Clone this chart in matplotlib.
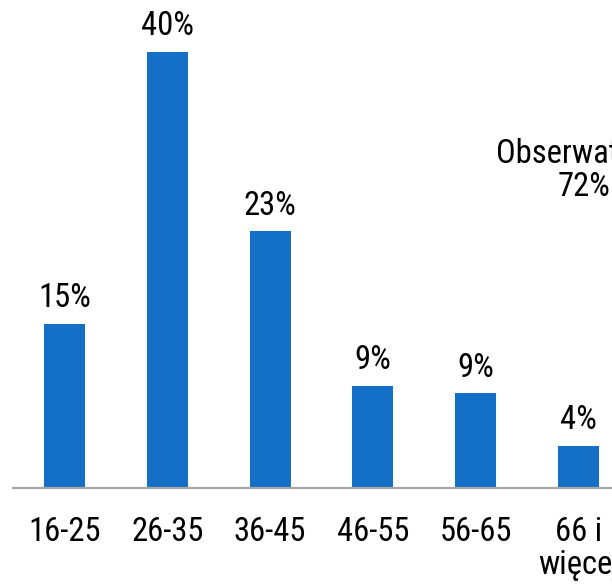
import matplotlib.pyplot as plt

# Struktura wiekowa
categories = ['16-25', '26-35', '36-45', '46-55', '56-65', '66 i\nwięcej']
shares = [14.9, 39.6, 23.3, 9.3, 8.6, 3.8]

side_label = 'Obserwatorzy\n72%'

plt.rcParams['font.family'] = ['Liberation Sans Narrow', 'Roboto Condensed', 'Liberation Sans', 'DejaVu Sans']

W, H = 612, 586
fig = plt.figure(figsize=(W / 100, H / 100), dpi=100)
# osie wychodzą poza prawą krawędź rysunku
ax = fig.add_axes([13 / W, (H - 488) / H, 617 / W, 488 / H])

x = range(len(categories))
bars = ax.bar(x, shares, width=0.4, color='#146FC7')

for b, v in zip(bars, shares):
    ax.annotate(f'{v:.0f}%', (b.get_x() + b.get_width() / 2, v),
                xytext=(0, 12), textcoords='offset points',
                ha='center', va='baseline', fontsize=23.5, clip_on=False)

ax.set_xlim(-0.5, 5.5)
ax.set_ylim(0, 488 / 11.01)
ax.set_xticks(list(x))
ax.set_xticklabels(categories, fontsize=23.5, linespacing=1.05)
ax.tick_params(axis='x', length=0, pad=20)
ax.set_yticks([])
for s in ['top', 'right', 'left']:
    ax.spines[s].set_visible(False)
ax.spines['bottom'].set_color('#a6a6a6')
ax.spines['bottom'].set_linewidth(1.6)

fig.text(584 / W, (H - 196) / H, side_label, ha='center', va='baseline',
         fontsize=23.5, linespacing=1.05)

fig.savefig('out.png', dpi=100)
